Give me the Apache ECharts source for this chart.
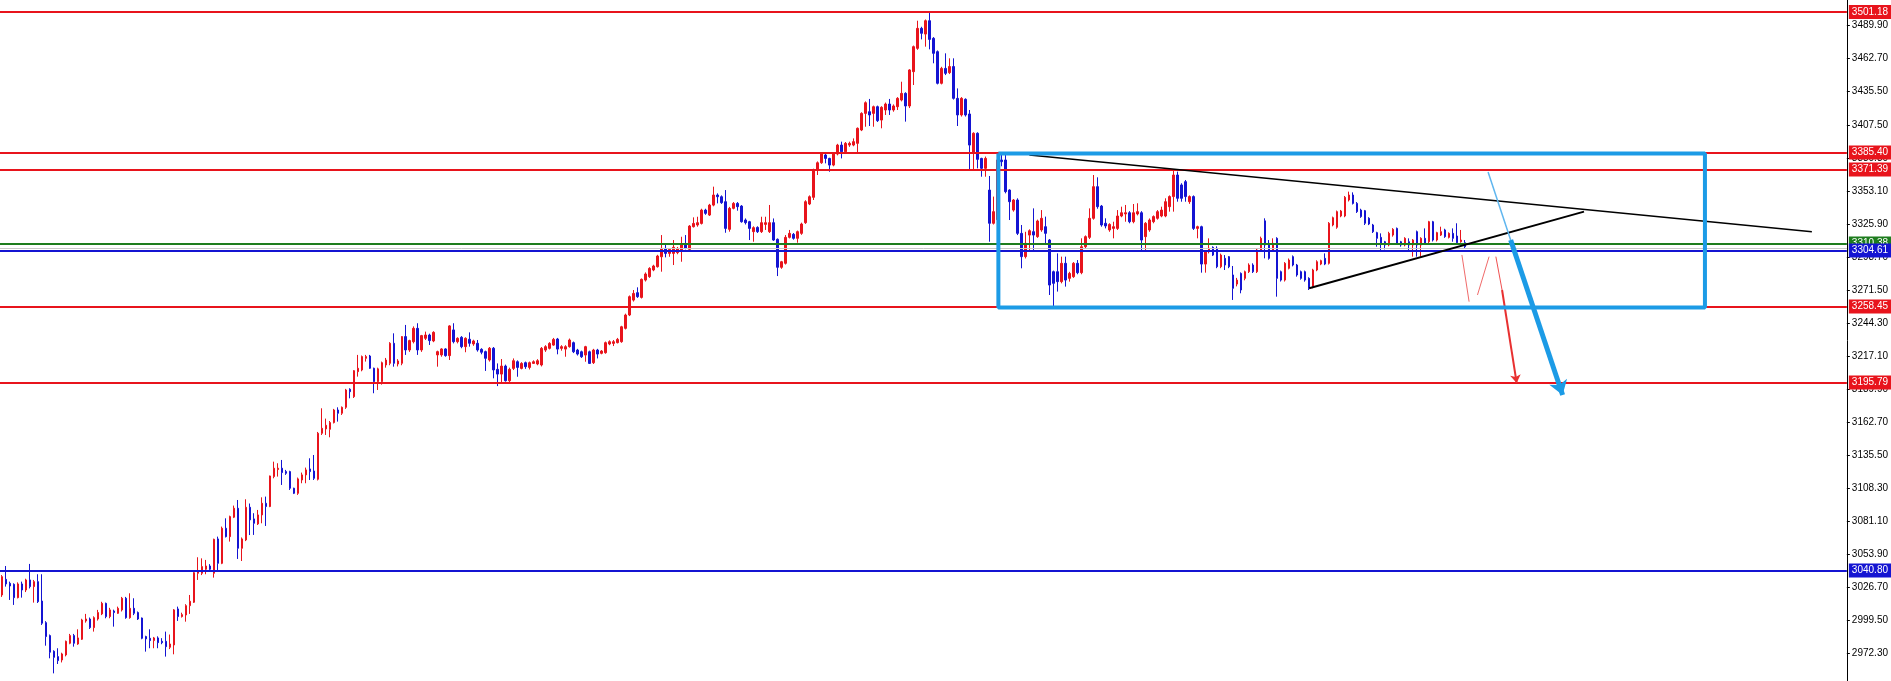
<!DOCTYPE html>
<html><head><meta charset="utf-8">
<script src="https://cdn.jsdelivr.net/npm/echarts@6/dist/echarts.min.js"></script>
<style>html,body{margin:0;padding:0;background:#fff;overflow:hidden}#c{width:1891px;height:681px}</style>
</head><body><div id="c"></div><script>
// each bar: [open, high, low, close]
const bars = [
[3020.6,3037,3019,3035.7],[3033.5,3044.5,3027.5,3029.7],[3030.2,3031.6,3016.5,3028.0],[3029.4,3030.2,3012.4,3018.4],[3018.4,3031,3017.8,3029.7],
[3029.7,3031.6,3018.4,3024.7],[3024.7,3034,3023,3033.0],[3033.0,3046.2,3026,3027.5],[3027.5,3033,3014.3,3031.6],[3031.6,3037.7,3014,3015.1],
[3015.6,3037.7,2995.9,2997.3],[2997.8,2999,2978.8,2986.3],[2987.1,2988,2968.4,2973.4],[2974.2,2975,2956.0,2969.2],[2969.8,2976.7,2963.7,2966.5],
[2967.0,2973,2965,2972.0],[2971.2,2983,2970,2982.4],[2980.8,2988.5,2980,2987.1],[2987.1,2988.5,2978,2980.8],[2980.2,2992.3,2979.5,2985.2],
[2984.1,3001,2983.5,3000.0],[2999.2,3005,2997.8,3000.8],[3000.8,3002,2992.6,2993.7],[2993.7,3003,2990.4,3001.9],[3000.8,3008.3,2999.5,3006.1],
[3005.0,3015,3004,3013.7],[3013.7,3014.3,3001.4,3002.8],[3002.8,3010,3001.4,3008.3],[3007.4,3008.5,2994.5,3006.1],[3005.5,3011,3005,3009.6],
[3008.3,3019,3007,3017.9],[3017.9,3019,3001,3001.9],[3001.9,3022,3001,3009.6],[3009.6,3017.9,3004,3005.5],[3006.1,3007,3000,3000.8],
[3001.6,3002,2984.1,2984.9],[2986.3,2987,2973.9,2984.4],[2984.9,2992.3,2976.7,2983.0],[2983.0,2986,2976.7,2985.2],[2985.2,2986.5,2976.7,2981.3],
[2982.4,2985,2980,2981.3],[2982.4,2990.4,2969.8,2978.0],[2977.5,2988,2976,2980.2],[2979.4,3009,2971.7,3008.3],[3009.1,3011,2999.2,3002.8],
[3002.8,3006,3002,3004.4],[3004.1,3013,2998.6,3011.8],[3011.8,3020.6,3005.0,3015.4],[3014.6,3040,3014,3039.0],[3038.5,3051.7,3033.0,3040.7],
[3038.5,3050.8,3037,3044.0],[3041.8,3049.5,3037.7,3044.5],[3044.5,3046,3040,3041.8],[3038.5,3067,3034.9,3066.5],[3066.8,3068.7,3041.2,3046.7],
[3046.7,3077,3046,3075.6],[3075.6,3083.8,3068,3068.7],[3068.7,3086,3064.6,3085.2],[3084.7,3094.3,3084,3092.1],[3092.1,3098.9,3050.3,3059.1],
[3059.1,3068,3048.6,3066.8],[3066.0,3099.5,3065,3092.9],[3092.9,3096,3070,3082.5],[3083.3,3088,3070.1,3079.7],[3079.2,3090.7,3078.3,3086.6],
[3086.6,3101.1,3079.7,3096.2],[3096.2,3101.7,3077.5,3093.5],[3093.5,3119,3093,3118.7],[3118.2,3130.5,3116.8,3125.1],[3124,3129.2,3118.2,3125.1],
[3125.1,3131.9,3111.3,3121.5],[3122.3,3123.7,3119.6,3120.9],[3122.3,3123,3107.2,3108.6],[3108.6,3109,3103.8,3104.4],[3104.4,3117.4,3103.1,3116.3],
[3115.4,3121.5,3112.7,3119.6],[3119.6,3125.6,3112.7,3123.7],[3124.5,3133.3,3115.4,3122.3],[3122.8,3136,3115.4,3116.8],[3116,3155,3115,3153.9],
[3153.9,3174.5,3152.5,3158.0],[3157.5,3166,3152.5,3160.5],[3157.2,3164,3150.6,3162.7],[3162.7,3174,3162,3173.1],[3173.1,3175.3,3163.5,3170.4],
[3170.4,3176,3169,3175.3],[3175.3,3190.5,3174,3189.6],[3190.2,3191,3182.7,3188.2],[3184.1,3206,3183,3205.5],[3204.7,3218.5,3200.6,3207.5],
[3206.1,3218,3205,3217.1],[3215.7,3218.5,3213,3217.1],[3217.6,3218.5,3207,3207.5],[3207.5,3208,3186.9,3196.5],[3196.5,3208,3189.6,3207],
[3196.5,3213,3194,3212.1],[3210.2,3216,3208,3214.3],[3211.6,3229,3210,3228.1],[3228.1,3236.3,3208.8,3211.6],[3211.0,3215,3209,3213.5],
[3211.6,3234,3210,3233.6],[3233.6,3243.2,3218.5,3222.6],[3222.6,3231,3221,3230.3],[3229.4,3242,3228,3240.4],[3240.4,3244.6,3218.5,3222.6],
[3222.6,3235,3221,3234.4],[3232.2,3237.7,3230.8,3234.9],[3234.9,3236,3226.7,3230.3],[3230.0,3238,3229,3237.1],[3218.5,3222,3208.8,3221.2],
[3218.5,3224,3217,3223.4],[3223.4,3224,3217,3217.9],[3217.9,3243,3214.3,3242.4],[3239.1,3244.6,3228,3229.4],[3229.4,3233,3228,3232.2],
[3233.0,3234,3224,3225.3],[3225.3,3233,3220.7,3232.2],[3231.4,3237.1,3225.3,3228.1],[3227.5,3231,3226,3230.0],[3228.1,3230.8,3221.2,3222.6],
[3223.1,3224,3219,3220.7],[3221.2,3222,3205.3,3215.7],[3214.3,3225,3213,3224.0],[3224.0,3225,3199.2,3206.1],[3206.6,3211.5,3192.8,3202.7],
[3202.7,3215.1,3195.0,3209.3],[3209.3,3210.5,3196.5,3197.2],[3197.2,3208,3196,3206.6],[3207.4,3215.6,3206,3213.7],[3212.9,3214,3200.5,3208.2],
[3207.4,3212.5,3206.6,3211.5],[3212.1,3213,3207,3208.8],[3208.2,3213,3206.5,3212.1],[3211.5,3214,3211,3212.9],[3211.0,3215,3210,3213.7],
[3210.2,3225,3209,3223.9],[3222.5,3226.5,3221,3225.3],[3223.9,3229,3223,3228.0],[3226.6,3232.5,3226,3231.3],[3231.6,3232.5,3219,3223.3],
[3223.9,3226.5,3222,3225.3],[3223.3,3226.5,3217,3225.3],[3225.3,3232,3224.5,3230.8],[3228.6,3229.5,3220,3221.1],[3222.5,3223.5,3218,3219.2],
[3221.1,3222,3216,3217.0],[3218.4,3226,3212.9,3225.3],[3221.1,3222,3211,3211.5],[3212.1,3223.5,3211,3222.5],[3222.5,3223.5,3215.6,3219.2],
[3219.8,3222.5,3219,3221.7],[3220.3,3229.5,3219.5,3228.6],[3227.5,3230.5,3226.5,3229.4],[3228.0,3230.8,3225.8,3229.4],[3228.6,3232.5,3228,3231.3],
[3229.4,3242.5,3228.5,3241.7],[3240.4,3252.5,3239.5,3251.4],[3251.4,3267.5,3250.5,3266.5],[3263.7,3272,3262.5,3269.2],[3269.8,3274.2,3265.5,3266.5],
[3265.9,3281.5,3265,3280.8],[3280.2,3286.5,3279,3285.2],[3283.0,3290.8,3282,3289.8],[3288.5,3292.8,3287.5,3291.8],[3291.2,3301,3290.5,3300.0],
[3299.4,3317.3,3287.1,3306.3],[3306.3,3309.1,3298.9,3302.2],[3302.2,3306.5,3299.4,3305.5],[3302.2,3313.2,3292.6,3307.2],[3302.8,3307.5,3301.5,3306.3],
[3305.0,3315.9,3295.3,3309.1],[3309.9,3317.3,3305.5,3306.3],[3305.5,3325.5,3305,3324.7],[3324.2,3331.9,3323.5,3326.9],[3325.6,3332.4,3324.2,3327.5],
[3326.9,3339,3326,3337.9],[3337.9,3339,3334,3335.2],[3333.8,3343,3333,3342.0],[3342.0,3357.2,3341,3350.3],[3350.3,3351.7,3343.4,3348.9],
[3348.9,3350,3343,3344.0],[3344.8,3354.4,3319.2,3322.8],[3322.0,3340.5,3320.1,3339.3],[3339.3,3344.5,3338.5,3343.4],[3343.4,3344.5,3337.4,3340.7],
[3341.2,3342,3327.5,3328.3],[3329.7,3331,3326,3327.5],[3328.3,3329,3313.2,3322.8],[3320.1,3324.5,3311.8,3323.4],[3323.6,3324.5,3319,3320.1],
[3320.1,3332.4,3319,3327.5],[3326.1,3332.4,3321.5,3327.5],[3320.1,3342.1,3319,3327.5],[3327.5,3331,3312.5,3313.2],[3313.8,3314.5,3283.5,3290.7],
[3290.7,3296,3289.5,3295.3],[3294.0,3317.3,3293,3315.4],[3315.4,3321.5,3314.5,3318.7],[3317.9,3319,3313.5,3314.6],[3314.6,3321,3311.0,3320.1],
[3318.7,3327.5,3317.5,3326.4],[3327.5,3346,3326.5,3344.8],[3342.9,3350,3342,3348.9],[3348.4,3372,3346.2,3370.9],[3370.9,3378,3366.8,3376.9],
[3376.9,3385.5,3376,3384.1],[3383.3,3384.7,3376.4,3380.5],[3380.5,3381,3369.5,3375.0],[3375.0,3385.5,3374,3384.7],[3384.1,3392.5,3383,3391.5],
[3391.5,3394.3,3380.5,3386.0],[3386.0,3394,3384.1,3392.9],[3391.5,3394.3,3390,3392.9],[3391.5,3397,3390.5,3394.3],[3392.9,3406,3385.2,3405.3],
[3403.9,3418.5,3403,3417.6],[3417.6,3427.5,3406.6,3426.4],[3419.0,3429.5,3407.2,3416.3],[3417.6,3424,3406.6,3423.1],[3423.1,3424,3410.5,3411.6],
[3412.1,3423.5,3405.3,3422.6],[3420.4,3426.5,3416.3,3425.3],[3425.3,3429.5,3416.3,3420.4],[3420.4,3425,3419,3423.7],[3423.1,3431,3420.4,3430.0],
[3428.6,3443.7,3427.5,3434.1],[3434.1,3435,3410.8,3423.7],[3423.7,3454,3422,3453.4],[3452.0,3473.5,3441,3472.6],[3471.2,3494.0,3470,3487.7],
[3487.7,3489,3478.6,3483.6],[3483.0,3495,3472.6,3494.0],[3494.0,3500.6,3470.4,3478.6],[3479.5,3480.5,3458.9,3467.1],[3468.5,3469.5,3441.5,3442.4],
[3442.4,3456,3441.5,3454.7],[3454.7,3467.1,3449.2,3450.6],[3451.2,3463.0,3450,3456.2],[3456.2,3463.0,3429,3430.0],[3430.0,3438.2,3407.2,3416.3],
[3416.3,3431,3415,3430.0],[3429.2,3430,3415,3416.3],[3417.1,3420.4,3370.9,3391.5],[3385.0,3402,3370.9,3401.2],[3401.2,3402,3372.3,3379.7],
[3380.5,3381,3365.4,3372.3],[3372.3,3382,3365.4,3380.5],[3354.4,3366,3311.8,3327.0],[3327.0,3349.0,3326,3336.6],[3330.0,3384.7,3327,3379.2],
[3379.2,3385.4,3374,3377.8],[3379.2,3383.3,3351.7,3353.1],[3354.4,3355,3329.7,3344.8],[3337.9,3347,3336.6,3346.2],[3346.2,3347.6,3317.3,3318.7],
[3318.7,3325.6,3289.9,3299.5],[3299.5,3320,3298,3310.5],[3317.3,3322,3305.0,3320.9],[3320.1,3339.3,3305.0,3317.3],[3316.0,3330,3315,3328.9],
[3321.5,3337.9,3320,3331.1],[3324.2,3332.5,3310.5,3318.7],[3313.2,3314,3267.9,3276.1],[3287.1,3288,3258.3,3277.5],[3287.1,3302.2,3270.7,3278.9],
[3278.9,3299.5,3277.5,3294.0],[3294.0,3299.5,3274.8,3280.2],[3281.6,3287,3278.9,3285.7],[3283.0,3295,3282,3294.0],[3294.0,3296.7,3285,3286.3],
[3286.3,3314.6,3285,3307.7],[3307.7,3317,3306,3316.0],[3315.4,3339.3,3314,3331.1],[3331.1,3366.8,3330,3357.2],[3357.2,3364.9,3339,3340.7],
[3341.2,3342.1,3324.2,3325.6],[3327.0,3331.1,3322.8,3324.8],[3321.5,3327,3320,3326.1],[3322.8,3328.3,3314.6,3324.2],[3322.8,3337.9,3321.5,3333.0],
[3333.0,3340.7,3332,3335.7],[3334.7,3342.1,3328.3,3335.7],[3335.7,3337,3327,3328.3],[3328.3,3342.9,3327,3335.7],[3334.7,3343.5,3333.5,3336.6],
[3335.7,3337,3305.0,3313.2],[3316.0,3328,3305.0,3327.0],[3321.5,3331,3320,3329.7],[3328.3,3333.5,3327,3332.5],[3331.1,3337.9,3330,3336.6],
[3333.0,3340.7,3332,3337.9],[3333.0,3347.6,3332,3344.8],[3340.7,3350,3336.6,3349.0],[3349.0,3371.5,3336.6,3366.8],[3366.8,3369.6,3344.8,3347.6],
[3358.6,3360,3344.8,3347.6],[3361.3,3362.7,3344.8,3349.0],[3344.8,3350,3343,3349.0],[3349.0,3350,3321.5,3322.8],[3322.8,3325,3314.6,3324.2],
[3324.2,3325,3286.3,3293.4],[3293.4,3304.5,3286.3,3303.6],[3303.6,3314.6,3302.2,3306.4],[3307.2,3308,3300,3300.8],[3306.4,3308,3290,3291.2],
[3291.2,3302,3290,3300.8],[3298.1,3300.8,3288.5,3292.6],[3299.5,3300,3290,3291.2],[3284.4,3291.8,3263.8,3273.4],[3276.9,3282,3275,3280.2],
[3285.7,3286.5,3269.3,3272.0],[3281.6,3288,3280,3287.1],[3287.1,3294,3286,3292.6],[3292.6,3294,3286,3287.1],[3287.1,3306,3286,3305.0],
[3305.0,3316.0,3304,3314.6],[3329,3331.1,3298.1,3309.1],[3310.5,3313.2,3297,3298.1],[3305.0,3314.6,3304,3310.5],[3314.6,3315.5,3266.5,3281.6],
[3287.1,3288,3279,3280.2],[3280.2,3295,3279,3294.0],[3289.9,3298,3289,3296.7],[3299.5,3300.5,3291.5,3292.6],[3292.6,3293.5,3283,3284.4],
[3287.1,3288,3280.5,3281.6],[3287.1,3288,3278.9,3280.2],[3281.6,3282.5,3272,3273.4],[3274.8,3289.5,3273.5,3288.5],[3288.5,3296.5,3287.5,3295.3],
[3293.4,3297,3292.5,3296.2],[3298.1,3302.2,3292.5,3293.4],[3294.0,3328,3293,3327.0],[3325.6,3332.5,3324.5,3331.6],[3323.7,3337.5,3322.5,3336.6],
[3333.0,3338,3332,3337.1],[3333.0,3349.5,3332,3348.4],[3346.2,3353.1,3345,3350.3],[3350.3,3352.5,3342.5,3343.4],[3343.4,3344.5,3335.5,3336.6],
[3337.9,3339,3331.5,3332.5],[3337.4,3338,3325.6,3327.0],[3331.1,3332,3325.5,3326.4],[3325.6,3326.5,3319,3320.1],[3319.3,3320,3307.7,3314.6],
[3315.4,3318.7,3305.0,3310.5],[3311.8,3312.5,3305.5,3309.1],[3309.1,3320,3308,3318.7],[3317.3,3323,3316,3322.0],[3322.8,3323.5,3309.5,3310.5],
[3311.8,3312.5,3307.7,3309.1],[3309.1,3315.5,3308,3314.6],[3311.8,3314.6,3305.0,3309.1],[3309.1,3314,3299.5,3313.2],[3320.1,3321,3299.5,3309.1],
[3309.1,3315.5,3299.5,3314.6],[3314.6,3322.8,3309.5,3310.5],[3311.8,3329,3310.5,3328.3],[3328.3,3329,3312,3313.2],[3313.2,3320,3312,3319.3],
[3317.3,3324.2,3316.5,3320.1],[3321.5,3322.5,3315,3316.0],[3315.4,3319.5,3314.5,3318.7],[3318.7,3322.8,3311.8,3314.6],[3316.5,3327.0,3310,3311.0],
[3311.8,3321.5,3311,3313.2],[3311.0,3313.2,3306.4,3307.7]
];
const slotCount = 462;
const categories = Array.from({length: slotCount}, (_, i) => String(i + 1));
const tickLabels = [3489.90,3462.70,3435.50,3407.50,3380.30,3353.10,3325.90,3298.70,3271.50,3244.30,3217.10,3189.90,3162.70,3135.50,3108.30,3081.10,3053.90,3026.70,2999.50,2972.30];
const levelValues = [3501.18, 3385.40, 3371.39, 3258.45, 3195.79, 3040.80, 3310.38, 3304.61];
const levelKinds  = ['red','red','red','red','red','blue','green','blue'];
const askValue = 3306.6;
const boxX = [249.25, 426];
const boxY = [3257.5, 3384.5];
const fallingTrend = [[257, 3383.3], [452.75, 3320.0]];
const risingTrend = [[327, 3273.4], [395.75, 3336.6]];
const blueArrowThin = [[371.75, 3369.3], [377.4, 3313.2]];
const blueArrowThick = [[377.4, 3313.2], [390.4, 3185.5]];
const redZig1 = [[365.2, 3300.9], [367, 3262.4]];
const redZig2 = [[369.1, 3267.9], [372, 3299.5]];
const redArrowThin = [[373.7, 3299.5], [375.25, 3272.0]];
const redArrowThick = [[375.25, 3272.0], [378.9, 3195.4]];

const palette = {red:'#e8141c', blue:'#1414d2', green:'#1e7d1e', box:'#1c9be6'};
const candleData = bars.map(b => [b[0], b[3], b[2], b[1]]);
const FONT = 'Liberation Sans';

const chart = echarts.init(document.getElementById('c'), null, {renderer:'canvas'});
const seg = (coords, color, width, arrow, size) => ({
  type:'lines', coordinateSystem:'cartesian2d', xAxisIndex:1, yAxisIndex:0, silent:true, z:5,
  symbol: arrow ? ['none','arrow'] : ['none','none'], symbolSize: size || 10,
  lineStyle:{color, width, opacity:1}, data:[{coords}]
});
chart.setOption({
  animation:false,
  backgroundColor:'#ffffff',
  grid:{left:0, right:43, top:0, bottom:0, containLabel:false},
  xAxis:[
    {type:'category', data:categories, show:false, boundaryGap:true, axisLine:{show:false, onZero:false}},
    {type:'value', min:-0.5, max:slotCount-0.5, show:false, axisLine:{show:false, onZero:false}}
  ],
  yAxis:{
    type:'value', position:'right', min:2949.69, max:3511.07, scale:true,
    axisLine:{show:true, onZero:false, lineStyle:{color:'#000', width:1}},
    axisTick:{show:true, length:3, inside:false, lineStyle:{color:'#000'}, customValues:tickLabels},
    axisLabel:{show:true, color:'#000', fontSize:10, fontFamily:FONT, margin:5,
      customValues:tickLabels, formatter:v => Number(v).toFixed(2)},
    splitLine:{show:false}
  },
  series:[
    {
      type:'candlestick', data:candleData, barWidth:2, z:3,
      itemStyle:{color:palette.red, color0:palette.blue, borderColor:palette.red, borderColor0:palette.blue, borderWidth:1},
      markLine:{
        silent:true, symbol:['none','none'], animation:false, z:4,
        data: levelValues.map((v, i) => ({
          yAxis:v,
          lineStyle:{color:palette[levelKinds[i]], width:2, type:'solid'},
          label:{show:true, position:'end', distance:2, formatter:() => v.toFixed(2),
            color:'#fff', backgroundColor:palette[levelKinds[i]], fontSize:10, fontFamily:FONT,
            padding:[2,4,1,3], lineHeight:11}
        })).concat([{yAxis:askValue, lineStyle:{color:'#c8c8c8', width:1, type:'solid'}, label:{show:false}}])
      }
    },
    {
      type:'line', xAxisIndex:1, yAxisIndex:0, silent:true, symbol:'none', z:5,
      lineStyle:{color:palette.box, width:4}, data:[[boxX[0],boxY[1]],[boxX[1],boxY[1]],[boxX[1],boxY[0]],[boxX[0],boxY[0]],[boxX[0],boxY[1]]]
    },
    seg(fallingTrend, '#000', 1.5),
    seg(risingTrend, '#000', 2),
    seg(blueArrowThin, '#5fb6ef', 1.5),
    seg(blueArrowThick, palette.box, 5, true, 14),
    seg(redZig1, '#f06a6a', 1),
    seg(redZig2, '#f06a6a', 1),
    seg(redArrowThin, '#f05050', 1),
    seg(redArrowThick, '#e83030', 2, true, 8)
  ]
});
</script></body></html>
